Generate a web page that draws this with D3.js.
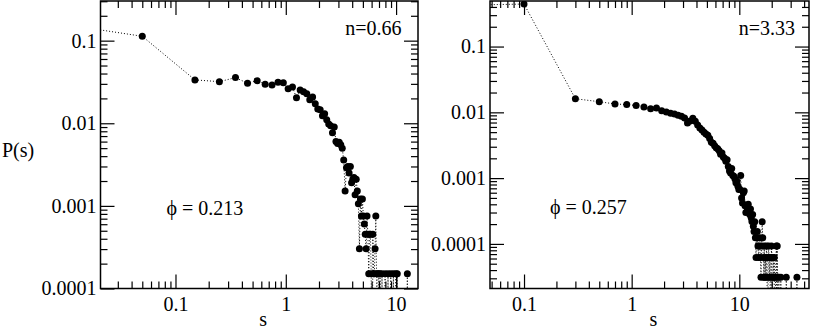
<!DOCTYPE html>
<html>
<head>
<meta charset="utf-8">
<script src="https://cdnjs.cloudflare.com/ajax/libs/d3/7.8.5/d3.min.js"></script>
<style>
  body { margin: 0; background: #fff; }
</style>
</head>
<body>
<script>
// ---- data ----
var leftS = [0.005, 0.05, 0.15, 0.25, 0.35, 0.45, 0.55, 0.65, 0.75, 0.85, 0.95,
  1.05, 1.15, 1.25, 1.35, 1.45, 1.55, 1.65, 1.75, 1.85, 1.95,
  2.05, 2.15, 2.25, 2.35, 2.45, 2.55, 2.65, 2.75, 2.85, 2.95,
  3.05, 3.15, 3.25, 3.35, 3.45, 3.55, 3.65, 3.75, 3.85, 3.95,
  4.05, 4.15, 4.25, 4.35, 4.45, 4.55, 4.65, 4.75, 4.85, 4.95,
  5.05, 5.15, 5.25, 5.35, 5.45, 5.55, 5.65, 5.75, 5.85, 5.95,
  6.05, 6.15, 6.25, 6.35, 6.45, 6.55, 6.65, 6.75, 6.85, 6.95,
  7.05, 7.15, 7.35, 7.45, 7.75, 7.95, 8.25, 8.45, 8.75, 8.95,
  9.25, 9.45, 9.65, 9.95, 10.05, 10.25, 11.5, 12.65, 13.5];
var leftP = [0.18, 0.113, 0.0335, 0.0319, 0.0357, 0.0305, 0.0328, 0.0297, 0.0290, 0.0314, 0.0310,
  0.0261, 0.0275, 0.0203, 0.0253, 0.0240, 0.0227, 0.0192, 0.0208, 0.0172, 0.0149,
  0.0146, 0.0123, 0.0130, 0.0110, 0.0098, 0.0093, 0.0077, 0.0090, 0.0060, 0.0057,
  0.0059, 0.0055, 0.0050, 0.0036, 0.00151, 0.0029, 0.0030, 0.0025, 0.0030, 0.0019,
  0.0021, 0.0022, 0.00136, 0.0021, 0.00151, 0.00106, 0.000302, 0.00121, 0.000755, 0.00121,
  0.000755, 0.000604, 0.000453, 0.000302, 0.000755, 0.000453, 0.000151, 0.000453, 0.000453, 0.000151,
  0, 0.000453, 0.000151, 0.000151, 0.000302, 0.000755, 0.000151, 0, 0.000151, 0.000151,
  0, 0.000151, 0, 0.000151, 0, 0.000151, 0, 0.000151, 0, 0.000151,
  0, 0.000151, 0, 0.000151, 0, 0.000151, 0, 0.000151, 0];

var rightS = [0.02, 0.1, 0.3, 0.5, 0.7, 0.9, 1.1, 1.3, 1.5, 1.7, 1.9,
  2.1, 2.3, 2.5, 2.7, 2.9, 3.1, 3.3, 3.5, 3.7, 3.9,
  4.1, 4.3, 4.5, 4.7, 4.9, 5.1, 5.3, 5.5, 5.7, 5.9,
  6.1, 6.3, 6.5, 6.7, 6.9, 7.1, 7.3, 7.5, 7.7, 7.9,
  8.1, 8.3, 8.5, 8.7, 8.9, 9.1, 9.3, 9.5, 9.7, 9.9,
  10.1, 10.3, 10.5, 10.7, 10.9, 11.1, 11.3, 11.5, 11.7, 11.9,
  12.1, 12.3, 12.5, 12.7, 12.9, 13.1, 13.3, 13.5, 13.7, 13.9,
  14.1, 14.3, 14.5, 14.7, 14.9, 15.1, 15.3, 15.5, 15.7, 15.9,
  16.1, 16.3, 16.5, 16.7, 16.9, 17.1, 17.3, 17.5, 17.7, 17.9,
  18.1, 18.3, 18.5, 18.7, 18.9, 19.1, 19.3, 19.5, 19.7, 19.9,
  20.1, 20.3, 20.5, 20.7, 20.9, 21.1, 21.3, 21.5, 21.7, 22.1,
  22.3, 22.5, 22.7, 22.9, 23.3, 23.7, 24.3, 25.5, 27.3, 30.5, 34.3, 38];
var rightP = [0.42, 0.443, 0.0161, 0.0145, 0.0134, 0.0131, 0.0127, 0.0121, 0.0113, 0.0116, 0.0106,
  0.0101, 0.0097, 0.0094, 0.0090, 0.0087, 0.0082, 0.0069, 0.0074, 0.0081, 0.0073,
  0.0064, 0.0058, 0.0054, 0.0050, 0.0047, 0.0045, 0.0040, 0.0035, 0.0034, 0.0031,
  0.0029, 0.0028, 0.0026, 0.0023, 0.0024, 0.0021, 0.0020, 0.0018, 0.0019, 0.0015,
  0.00128, 0.00120, 0.00140, 0.00110, 0.00107, 0.00098, 0.00085, 0.00090, 0.00075, 0.00067,
  0.00068, 0.00110, 0.00050, 0.00042, 0.00060, 0.00064, 0.00038, 0.00030, 0.00038, 0.00034,
  0.00040, 0.00031, 0.00028, 0.00034, 0.00025, 0.00022, 0.00028, 0.000186, 0.000155, 0.000217,
  0.000124, 0.000062, 0.000124, 0.000155, 0.000093, 0.000062, 0.000093, 0.000124, 0.000062, 0.000031,
  0.000093, 0.000217, 0.000124, 0.000062, 0.000031, 0.000093, 0.000031, 0.000062, 0.000031, 0.000093,
  0.000062, 0, 0.000031, 0.000093, 0.000062, 0.000031, 0.000062, 0, 0.000031, 0.000093,
  0.000062, 0, 0.000031, 0.000062, 0.000031, 0.000062, 0.000031, 0, 0.000031, 0.000093,
  0, 0.000093, 0.000031, 0, 0.000031, 0, 0.000031, 0, 0.000031, 0, 0.000031, 0];

var xTickLabels = [0.1, 1, 10];
var leftYTickLabels = [0.0001, 0.001, 0.01, 0.1];
var rightYTickLabels = [0.0001, 0.001, 0.01, 0.1];
var nLabels = ["n=0.66", "n=3.33"];
var phiLabels = ["\u03d5 = 0.213", "\u03d5 = 0.257"];

var width = 817, height = 329;
var serif = '"Liberation Serif", "Times New Roman", "DejaVu Serif", serif';

var svg = d3.select("body").append("svg")
    .attr("width", width)
    .attr("height", height);

var panels = [
  {id: "l", left: 100.5, right: 418, top: 1, bottom: 288.5,
   xDomain: [0.0209, 15.8], yDomain: [1e-4, 0.302],
   s: leftS, p: leftP, yTicks: leftYTickLabels,
   note: nLabels[0], noteX: 401.5, noteY: 35,
   phi: phiLabels[0], phiX: 166.5, phiY: 215},
  {id: "r", left: 490, right: 809, top: 1, bottom: 288.5,
   xDomain: [0.0483, 44.4], yDomain: [2.1e-5, 0.4925],
   s: rightS, p: rightP, yTicks: rightYTickLabels,
   note: nLabels[1], noteX: 795, noteY: 35,
   phi: phiLabels[1], phiX: 550, phiY: 214}
];

function minorTicks(domain) {
  var out = [];
  var lo = Math.floor(Math.log10(domain[0])), hi = Math.ceil(Math.log10(domain[1]));
  for (var e = lo; e <= hi; e++) {
    for (var k = 2; k <= 9; k++) {
      var v = k * Math.pow(10, e);
      if (v > domain[0] && v < domain[1]) out.push(v);
    }
  }
  return out;
}

function fmt(d) { return String(d); }

panels.forEach(function (c) {
  var x = d3.scaleLog().domain(c.xDomain).range([c.left, c.right]);
  var y = d3.scaleLog().domain(c.yDomain).range([c.bottom, c.top]);
  var g = svg.append("g");

  var xMinor = minorTicks(c.xDomain), yMinor = minorTicks(c.yDomain);

  function axis(gen, pos, values, size, labels, pad) {
    var a = g.append("g")
        .attr("transform", pos)
        .call(gen.tickValues(values).tickSize(-size).tickPadding(pad)
            .tickFormat(labels ? fmt : ""));
    a.attr("font-family", null);
    a.select(".domain").remove();
    a.selectAll(".tick line").attr("stroke", "#000").attr("stroke-width", 1.2);
    a.selectAll("text")
        .style("font-family", serif)
        .style("font-size", "20px")
        .attr("fill", "#000");
    return a;
  }

  // bottom / left with labels, top / right mirrored
  axis(d3.axisBottom(x), "translate(0," + c.bottom + ")", xTickLabels, 14, true, 8);
  axis(d3.axisBottom(x), "translate(0," + c.bottom + ")", xMinor, 7, false, 0);
  axis(d3.axisTop(x), "translate(0," + c.top + ")", xTickLabels, 14, false, 0);
  axis(d3.axisTop(x), "translate(0," + c.top + ")", xMinor, 7, false, 0);
  axis(d3.axisLeft(y), "translate(" + c.left + ",0)", c.yTicks, 14, true, 4);
  axis(d3.axisLeft(y), "translate(" + c.left + ",0)", yMinor, 7, false, 0);
  axis(d3.axisRight(y), "translate(" + c.right + ",0)", c.yTicks, 14, false, 0);
  axis(d3.axisRight(y), "translate(" + c.right + ",0)", yMinor, 7, false, 0);

  svg.append("clipPath").attr("id", "clip-" + c.id)
    .append("rect")
    .attr("x", c.left).attr("y", c.top)
    .attr("width", c.right - c.left).attr("height", c.bottom - c.top);

  var pts = c.s.map(function (s, i) { return {s: s, p: c.p[i]}; });

  var line = d3.line()
      .x(function (d) { return x(d.s); })
      .y(function (d) { return y(d.p > 0 ? d.p : 1e-9); });

  var plot = g.append("g").attr("clip-path", "url(#clip-" + c.id + ")");

  plot.append("path")
      .datum(pts)
      .attr("d", line)
      .attr("fill", "none")
      .attr("stroke", "#000")
      .attr("stroke-width", 1)
      .attr("stroke-dasharray", "1,2");

  plot.selectAll("circle")
      .data(pts.filter(function (d) { return d.p > 0; }))
      .enter().append("circle")
      .attr("cx", function (d) { return x(d.s); })
      .attr("cy", function (d) { return y(d.p); })
      .attr("r", 3.5)
      .attr("fill", "#000");

  g.append("rect")
      .attr("x", c.left).attr("y", c.top)
      .attr("width", c.right - c.left).attr("height", c.bottom - c.top)
      .attr("fill", "none")
      .attr("stroke", "#000")
      .attr("stroke-width", 1.5);

  g.append("text")
      .attr("x", (c.left + c.right) / 2 + 4)
      .attr("y", 326)
      .attr("text-anchor", "middle")
      .style("font-family", serif)
      .style("font-size", "20px")
      .text("s");

  g.append("text")
      .attr("x", c.noteX).attr("y", c.noteY)
      .attr("text-anchor", "end")
      .style("font-family", serif)
      .style("font-size", "20px")
      .text(c.note);

  g.append("text")
      .attr("x", c.phiX).attr("y", c.phiY)
      .style("font-family", serif)
      .style("font-size", "20px")
      .text(c.phi);
});

svg.append("text")
    .attr("x", 2)
    .attr("y", 157)
    .style("font-family", serif)
    .style("font-size", "20px")
    .text("P(s)");
</script>
</body>
</html>
